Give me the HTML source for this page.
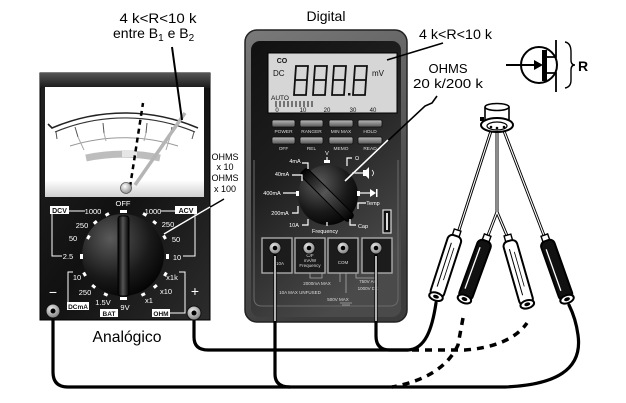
<!DOCTYPE html>
<html><head><meta charset="utf-8"><style>
html,body{margin:0;padding:0;background:#fff;}
svg{display:block;}
text{font-family:"Liberation Sans",sans-serif;}
</style></head><body>
<svg width="626" height="403" viewBox="0 0 626 403" xmlns="http://www.w3.org/2000/svg">
<defs>
<linearGradient id="aband" x1="0" y1="0" x2="0" y2="1"><stop offset="0" stop-color="#555"/><stop offset="1" stop-color="#1a1a1a"/></linearGradient>
<linearGradient id="abody" x1="0" y1="0" x2="1" y2="1"><stop offset="0" stop-color="#222"/><stop offset="0.5" stop-color="#111"/><stop offset="1" stop-color="#2c2c2c"/></linearGradient>
<linearGradient id="wstrip" x1="0" y1="0" x2="0" y2="1"><stop offset="0" stop-color="#fff"/><stop offset="1" stop-color="#d0d0d0"/></linearGradient>
<radialGradient id="knob" cx="0.35" cy="0.3" r="0.8"><stop offset="0" stop-color="#5a5a5a"/><stop offset="0.6" stop-color="#1a1a1a"/><stop offset="1" stop-color="#000"/></radialGradient>
<linearGradient id="ridge" x1="0" y1="0" x2="1" y2="0"><stop offset="0" stop-color="#000"/><stop offset="0.45" stop-color="#555"/><stop offset="1" stop-color="#000"/></linearGradient>
<linearGradient id="dframe" x1="0" y1="0" x2="0.3" y2="1"><stop offset="0" stop-color="#7a7a7a"/><stop offset="1" stop-color="#3c3c3c"/></linearGradient>
<linearGradient id="dinner" x1="0" y1="0" x2="0.5" y2="1"><stop offset="0" stop-color="#111"/><stop offset="0.45" stop-color="#1e1e1e"/><stop offset="1" stop-color="#4a4a4a"/></linearGradient>
<linearGradient id="btn" x1="0" y1="0" x2="0" y2="1"><stop offset="0" stop-color="#bbb"/><stop offset="1" stop-color="#555"/></linearGradient>
<radialGradient id="jack" cx="0.4" cy="0.35" r="0.7"><stop offset="0" stop-color="#eee"/><stop offset="1" stop-color="#777"/></radialGradient>
<radialGradient id="piv" cx="0.4" cy="0.35" r="0.7"><stop offset="0" stop-color="#fff"/><stop offset="1" stop-color="#888"/></radialGradient>
</defs>

<!-- ================= ANALOG METER ================= -->
<rect x="40" y="73" width="170" height="247" fill="url(#abody)" stroke="#000" stroke-width="1"/>
<rect x="40" y="73" width="170" height="15" fill="url(#aband)"/>
<rect x="45" y="87" width="159" height="110" fill="#fff"/>
<rect x="45" y="180" width="159" height="17" fill="url(#wstrip)"/>
<!-- scale -->
<path d="M48,124 L52,128 A185,185 0 0 1 198,128" fill="none" stroke="#222" stroke-width="1.6"/>
<path d="M55,132 A181,181 0 0 1 195,132" fill="none" stroke="#333" stroke-width="1.2"/>
<path d="M70,146 A180,180 0 0 1 178,146" fill="none" stroke="#999" stroke-width="1"/>
<g stroke="#555" stroke-width="1">
<line x1="56" y1="132" x2="57" y2="139"/>
<line x1="75" y1="127" x2="78" y2="137"/>
<line x1="103" y1="123" x2="104" y2="133"/>
<line x1="147" y1="123" x2="146" y2="133"/>
<line x1="172" y1="127" x2="170" y2="137"/>
<line x1="194" y1="132" x2="192" y2="139"/>
</g>
<g stroke="#aaa" stroke-width="1">
<line x1="78" y1="137" x2="84" y2="150"/>
<line x1="104" y1="133" x2="106" y2="141"/>
<line x1="146" y1="133" x2="144" y2="141"/>
<line x1="170" y1="137" x2="166" y2="150"/>
</g>
<path d="M86,158 A180,180 0 0 1 160,158" fill="none" stroke="#bdbdbd" stroke-width="7"/>
<rect x="122" y="150" width="15" height="7" fill="#e6e6e6"/>
<!-- needles -->
<line x1="135" y1="185" x2="185" y2="113" stroke="#b5b5b5" stroke-width="3.5"/>
<line x1="130" y1="187" x2="143" y2="103" stroke="#000" stroke-width="2.5" stroke-dasharray="5,4"/>
<circle cx="126" cy="188" r="5.5" fill="url(#piv)" stroke="#555" stroke-width="0.8"/>

<!-- dial area -->
<circle cx="123" cy="255" r="41" fill="url(#knob)"/>
<rect x="118" y="216" width="11" height="80" rx="3" fill="url(#ridge)" stroke="#000" stroke-width="1"/>
<g fill="#fff">
<rect x="120" y="210" width="7" height="3"/>
<rect x="120" y="297" width="7" height="3"/>
<rect x="105" y="213" width="4" height="3" transform="rotate(-30 107 214)"/>
<rect x="93" y="221" width="4" height="3" transform="rotate(-40 95 222)"/>
<rect x="86" y="236" width="4" height="3" transform="rotate(-60 88 237)"/>
<rect x="80" y="254" width="3" height="5"/>
<rect x="83" y="273" width="4" height="3" transform="rotate(60 85 274)"/>
<rect x="92" y="285" width="4" height="3" transform="rotate(40 94 286)"/>
<rect x="104" y="293" width="4" height="3" transform="rotate(25 106 294)"/>
<rect x="141" y="293" width="4" height="3" transform="rotate(-25 143 294)"/>
<rect x="153" y="285" width="4" height="3" transform="rotate(-40 155 286)"/>
<rect x="163" y="273" width="4" height="3" transform="rotate(-60 165 274)"/>
<rect x="166" y="254" width="3" height="5"/>
<rect x="163" y="236" width="4" height="3" transform="rotate(60 165 237)"/>
<rect x="153" y="221" width="4" height="3" transform="rotate(40 155 222)"/>
<rect x="143" y="213" width="4" height="3" transform="rotate(30 145 214)"/>
</g>
<!-- brackets -->
<g stroke="#fff" stroke-width="1" fill="none">
<path d="M52,214 L52,256 L62,256"/>
<line x1="68" y1="211" x2="85" y2="211"/>
<line x1="161" y1="211" x2="175" y2="211"/>
<path d="M195,214 L195,256 L183,256"/>
<path d="M73,272 L68,272 L68,303"/>
<path d="M179,272 L185,272 L185,313 L170,313"/>
</g>
<g fill="#fff">
<rect x="50" y="206" width="19" height="8"/>
<rect x="175" y="206" width="22" height="8"/>
<rect x="67" y="302" width="22" height="8"/>
<rect x="100" y="309" width="18" height="8"/>
<rect x="152" y="309" width="18" height="8"/>
</g>
<g font-size="7" fill="#111" font-weight="bold">
<text x="59.5" y="213" text-anchor="middle">DCV</text>
<text x="186" y="213" text-anchor="middle">ACV</text>
<text x="78" y="309" text-anchor="middle" font-size="6.5">DCmA</text>
<text x="109" y="316" text-anchor="middle" font-size="6.5">BAT</text>
<text x="161" y="316" text-anchor="middle" font-size="6.5">OHM</text>
</g>
<g font-size="7.5" fill="#fff" text-anchor="middle">
<text x="93" y="214">1000</text>
<text x="123" y="206">OFF</text>
<text x="153" y="214">1000</text>
<text x="82" y="228">250</text>
<text x="73" y="241">50</text>
<text x="68" y="259">2.5</text>
<text x="77" y="280">10</text>
<text x="85" y="295">250</text>
<text x="103" y="305">1.5V</text>
<text x="125" y="310">9V</text>
<text x="168" y="227">250</text>
<text x="176" y="242">50</text>
<text x="177" y="260">10</text>
<text x="172" y="280">x1k</text>
<text x="166" y="294">x10</text>
<text x="149" y="303">x1</text>
</g>
<text x="53" y="297" font-size="14" fill="#fff" text-anchor="middle">−</text>
<text x="195" y="296" font-size="14" fill="#fff" text-anchor="middle">+</text>

<!-- ================= DIGITAL METER ================= -->
<rect x="245" y="30" width="162" height="292" rx="12" fill="url(#dframe)" stroke="#222" stroke-width="1.5"/>
<rect x="251" y="41" width="150" height="276" rx="9" fill="url(#dinner)"/>
<path d="M254,160 L254,298 Q254,306 262,306 L390,306 Q398,306 398,298 L398,160" fill="none" stroke="#6a6a6a" stroke-width="1"/>
<!-- LCD -->
<rect x="268" y="53" width="129" height="60" fill="#d6d6d6" stroke="#000" stroke-width="1"/>
<text x="282" y="63" font-size="7" fill="#111" text-anchor="middle" font-weight="bold">CO</text>
<text x="273" y="76" font-size="8" fill="#111">DC</text>
<text x="372" y="76" font-size="8" fill="#111">mV</text>
<text x="271" y="100" font-size="6.5" fill="#111">AUTO</text>
<g fill="none" stroke="#111" stroke-width="1.8">
<path d="M296,66 L308,66 L307,80 L295,80 Z M295,80 L307,80 L306,95 L294,95 Z"/>
<path d="M315,66 L327,66 L326,80 L314,80 Z M314,80 L326,80 L325,95 L313,95 Z"/>
<path d="M334,66 L346,66 L345,80 L333,80 Z M333,80 L345,80 L344,95 L332,95 Z"/>
<path d="M355,66 L367,66 L366,80 L354,80 Z M354,80 L366,80 L365,95 L353,95 Z"/>
</g>
<rect x="348" y="93" width="2.5" height="2.5" fill="#111"/>
<g stroke="#111" stroke-width="1">
<line x1="276" y1="101" x2="276" y2="107"/><line x1="280" y1="101" x2="280" y2="107"/>
<line x1="284" y1="101" x2="284" y2="107"/><line x1="288" y1="101" x2="288" y2="107"/>
<line x1="292" y1="101" x2="292" y2="107"/><line x1="296" y1="101" x2="296" y2="107"/>
<line x1="300" y1="101" x2="300" y2="107"/><line x1="304" y1="101" x2="304" y2="107"/>
<line x1="308" y1="101" x2="308" y2="107"/><line x1="312" y1="101" x2="312" y2="107"/>
</g>
<g font-size="6" fill="#111" text-anchor="middle">
<text x="277" y="112">0</text><text x="303" y="112">10</text><text x="327" y="112">20</text><text x="353" y="112">30</text><text x="373" y="112">40</text>
</g>
<!-- buttons -->
<g fill="url(#btn)" stroke="#111" stroke-width="0.8">
<rect x="272" y="120" width="23" height="7" rx="1.5"/><rect x="300" y="120" width="23" height="7" rx="1.5"/>
<rect x="329" y="120" width="24" height="7" rx="1.5"/><rect x="358" y="120" width="24" height="7" rx="1.5"/>
<rect x="272" y="137" width="23" height="7" rx="1.5"/><rect x="300" y="137" width="23" height="7" rx="1.5"/>
<rect x="329" y="137" width="24" height="7" rx="1.5"/><rect x="358" y="137" width="24" height="7" rx="1.5"/>
</g>
<g font-size="4.8" fill="#ddd" text-anchor="middle">
<text x="283.5" y="133">POWER</text><text x="311.5" y="133">RANGER</text><text x="341" y="133">MIN MAX</text><text x="370" y="133">HOLD</text>
<text x="283.5" y="150">OFF</text><text x="311.5" y="150">REL</text><text x="341" y="150">MEMO</text><text x="370" y="150">READ</text>
</g>
<!-- dial -->
<circle cx="328" cy="195" r="30" fill="url(#knob)"/>
<rect x="-34" y="-5" width="68" height="10" rx="3" fill="url(#ridge)" stroke="#000" stroke-width="1" transform="translate(327,195) rotate(45)"/>
<g stroke="#fff" stroke-width="1.2" fill="none">
<path d="M327,157 L327,163"/>
<path d="M302,163 L308,163 L308,169"/>
<path d="M292,175 L302,175 L302,181"/>
<path d="M283,193 L298,193"/>
<path d="M292,213 L298,213 L298,206"/>
<path d="M302,225 L308,225 L308,219"/>
<path d="M327,226 L327,222"/>
<path d="M356,225 L350,225 L350,219"/>
<path d="M366,203 L358,203 L358,209"/>
<path d="M358,193 L370,193"/>
<path d="M352,173 L363,173"/>
<path d="M352,158 L347,158 L347,166"/>
</g>
<g fill="#fff" stroke="none">
<rect x="324" y="160" width="6" height="3"/>
<rect x="296" y="191" width="3" height="5"/>
<rect x="357" y="191" width="3" height="5"/>
<polygon points="370,189 376,193 370,197"/><rect x="376" y="189" width="1.5" height="8"/>
<polygon points="363,170 366,170 369,167 369,179 366,176 363,176"/>
</g>
<g font-size="5.5" fill="#fff" text-anchor="middle">
<text x="327" y="155">V</text>
<text x="295" y="163">4mA</text>
<text x="282" y="176">40mA</text>
<text x="272" y="195">400mA</text>
<text x="280" y="215">200mA</text>
<text x="294" y="227">10A</text>
<text x="325" y="233">Frequency</text>
<text x="363" y="228">Cap</text>
<text x="373" y="205">Temp</text>
<text x="357" y="160">Ω</text>
</g>
<path d="M372,176 Q375,173 372,170" fill="none" stroke="#fff" stroke-width="0.8"/>
<rect x="383" y="210" width="8" height="23" fill="#111" stroke="#ddd" stroke-width="1.2"/>
<rect x="386" y="213" width="2" height="17" fill="#ddd"/>
<!-- terminals -->
<g fill="#1c1c1c" stroke="#aaa" stroke-width="1.4">
<rect x="262" y="238" width="30" height="35"/><rect x="295" y="238" width="30" height="35"/>
<rect x="328" y="238" width="30" height="35"/><rect x="362" y="238" width="30" height="35"/>
</g>
<g font-size="4.5" fill="#ddd" text-anchor="middle">
<text x="280" y="265">10A</text>
<text x="310" y="257">C/F</text><text x="310" y="262">mA/W</text><text x="310" y="267">Frequency</text>
<text x="343" y="264">COM</text>
<text x="317" y="285">2000mA MAX</text>
<text x="300" y="294">10A MAX UNFUSED</text>
<text x="368" y="283">750V AC</text><text x="368" y="290">1000V DC</text>
<text x="338" y="301">500V MAX</text>
</g>
<g stroke="#aaa" stroke-width="0.8" fill="none">
<path d="M310,273 L310,278 L322,278 L322,273"/>
<path d="M340,273 L340,282 M346,273 L346,293 M340,303 L352,303 M342,305 L350,305"/>
<path d="M356,273 L356,278 L376,278"/>
<path d="M275,273 L275,288"/>
</g>

<!-- ================= WIRES ================= -->
<g fill="none" stroke="#000" stroke-width="3.2" stroke-linecap="round">
<path d="M53,316 L53,372 Q53,387 68,387 L505,387 C555,385 583,370 578,335 C576,320 572,311 569,305"/>
<path d="M194,318 L194,337 Q194,350 208,350 L408,350"/>
<path d="M376,250 L376,336 Q376,350 390,350 L408,350 C425,349 432,330 436,303"/>
<path d="M275,250 L275,374 Q275,387 290,387"/>
</g>
<g fill="none" stroke="#fff" stroke-width="1.4">
<line x1="275" y1="256" x2="275" y2="321"/>
<line x1="376" y1="256" x2="376" y2="321"/>
</g>
<g fill="none" stroke="#000" stroke-width="3.5" stroke-dasharray="7,6">
<path d="M412,350 L465,350 C492,348 515,340 527,323"/>
<path d="M463,318 L458,345 C448,367 425,381 392,387"/>
</g>
<!-- jacks -->
<g>
<circle cx="53" cy="311" r="7" fill="url(#jack)" stroke="#111" stroke-width="1"/><circle cx="53" cy="311" r="2.5" fill="#000"/>
<circle cx="194" cy="313" r="7" fill="url(#jack)" stroke="#111" stroke-width="1"/><circle cx="194" cy="313" r="2.5" fill="#000"/>
<circle cx="275" cy="248" r="6" fill="url(#jack)" stroke="#111" stroke-width="1"/><circle cx="275" cy="248" r="2.3" fill="#000"/>
<circle cx="309" cy="248" r="6" fill="url(#jack)" stroke="#111" stroke-width="1"/><circle cx="309" cy="248" r="2.3" fill="#000"/>
<circle cx="343" cy="248" r="6" fill="url(#jack)" stroke="#111" stroke-width="1"/><circle cx="343" cy="248" r="2.3" fill="#000"/>
<circle cx="376" cy="248" r="6" fill="url(#jack)" stroke="#111" stroke-width="1"/><circle cx="376" cy="248" r="2.3" fill="#000"/>
</g>

<!-- ================= TRANSISTOR & LEADS ================= -->
<g fill="none" stroke="#000" stroke-width="3" stroke-linecap="round">
<line x1="491" y1="131" x2="458" y2="233"/>
<line x1="497" y1="131" x2="497" y2="212"/>
<line x1="497" y1="212" x2="487" y2="238"/>
<line x1="497" y1="212" x2="508" y2="238"/>
<line x1="504" y1="131" x2="545" y2="238"/>
</g>
<g fill="none" stroke="#fff" stroke-width="1.1">
<line x1="491" y1="131" x2="458" y2="233"/>
<line x1="497" y1="131" x2="497" y2="212"/>
<line x1="497" y1="212" x2="487" y2="238"/>
<line x1="497" y1="212" x2="508" y2="238"/>
<line x1="504" y1="131" x2="545" y2="238"/>
</g>
<path d="M485,107 L485,121 L509,121 L509,107" fill="#fff" stroke="#000" stroke-width="1.6"/>
<ellipse cx="497" cy="107" rx="12" ry="3.5" fill="#fff" stroke="#000" stroke-width="1.6"/>
<ellipse cx="497" cy="125" rx="16" ry="7" fill="#fff" stroke="#000" stroke-width="2"/>
<ellipse cx="497" cy="126" rx="10" ry="4" fill="#fff" stroke="#000" stroke-width="1.2"/>
<rect x="480" y="117" width="4" height="4" fill="#000"/>
<circle cx="491" cy="127" r="1.3" fill="#000"/><circle cx="497" cy="128" r="1.3" fill="#000"/><circle cx="504" cy="127" r="1.3" fill="#000"/>

<!-- probes -->
<g transform="translate(457,232) rotate(18)">
<rect x="-3.5" y="-2" width="7" height="8" fill="#fff" stroke="#000" stroke-width="1.4"/>
<rect x="-7" y="4" width="14" height="64" rx="5" fill="#fff" stroke="#000" stroke-width="2"/>
<line x1="-2" y1="12" x2="-2" y2="58" stroke="#000" stroke-width="1"/>
<line x1="2" y1="16" x2="2" y2="50" stroke="#000" stroke-width="0.8"/>
<ellipse cx="0" cy="68" rx="7" ry="4" fill="#fff" stroke="#000" stroke-width="2"/>
<ellipse cx="0" cy="68" rx="3" ry="1.8" fill="#000"/>
</g>
<g transform="translate(487,237) rotate(20)">
<rect x="-3.5" y="-2" width="7" height="8" fill="#fff" stroke="#000" stroke-width="1.4"/>
<rect x="-7" y="4" width="14" height="62" rx="5" fill="#111" stroke="#000" stroke-width="2"/>
<line x1="-3" y1="12" x2="-3" y2="56" stroke="#fff" stroke-width="1.3"/>
<ellipse cx="0" cy="66" rx="7" ry="4" fill="#fff" stroke="#000" stroke-width="2"/>
<ellipse cx="0" cy="66" rx="3" ry="1.8" fill="#000"/>
</g>
<g transform="translate(508,237) rotate(-16)">
<rect x="-3.5" y="-2" width="7" height="8" fill="#fff" stroke="#000" stroke-width="1.4"/>
<rect x="-7" y="4" width="14" height="66" rx="5" fill="#fff" stroke="#000" stroke-width="2"/>
<line x1="-2" y1="12" x2="-2" y2="60" stroke="#000" stroke-width="1"/>
<line x1="2" y1="16" x2="2" y2="52" stroke="#000" stroke-width="0.8"/>
<ellipse cx="0" cy="70" rx="7" ry="4" fill="#fff" stroke="#000" stroke-width="2"/>
<ellipse cx="0" cy="70" rx="3" ry="1.8" fill="#000"/>
</g>
<g transform="translate(545,237) rotate(-19.5)">
<rect x="-3.5" y="-2" width="7" height="8" fill="#fff" stroke="#000" stroke-width="1.4"/>
<rect x="-7" y="4" width="14" height="62" rx="5" fill="#111" stroke="#000" stroke-width="2"/>
<line x1="-3" y1="12" x2="-3" y2="56" stroke="#fff" stroke-width="1.3"/>
<ellipse cx="0" cy="66" rx="7" ry="4" fill="#fff" stroke="#000" stroke-width="2"/>
<ellipse cx="0" cy="66" rx="3" ry="1.8" fill="#000"/>
</g>

<!-- ================= JFET SYMBOL ================= -->
<circle cx="539" cy="65" r="18" fill="none" stroke="#000" stroke-width="2"/>
<line x1="506" y1="65" x2="536" y2="65" stroke="#000" stroke-width="2"/>
<polygon points="534,60 543,65 534,70" fill="#000"/>
<rect x="542" y="50" width="5" height="31" fill="#000"/>
<path d="M547,57 L556,57 L556,40 M547,73 L556,73 L556,92" fill="none" stroke="#000" stroke-width="1.8"/>
<path d="M565,42 Q571,43 571,52 L571,60 Q571,65 575,65 Q571,65 571,70 L571,80 Q571,87 565,88" fill="none" stroke="#000" stroke-width="1.4"/>
<text x="578" y="71" font-size="14" font-weight="bold" fill="#000">R</text>

<!-- ================= LABELS & POINTERS ================= -->
<text x="158" y="23" font-size="14" text-anchor="middle" fill="#000" textLength="77" lengthAdjust="spacingAndGlyphs">4 k&lt;R&lt;10 k</text>
<text x="113" y="38" font-size="14" fill="#000">entre B<tspan font-size="10" dy="3">1</tspan><tspan dy="-3"> e B</tspan><tspan font-size="10" dy="3">2</tspan></text>
<line x1="172" y1="47" x2="182" y2="120" stroke="#000" stroke-width="2"/>

<text x="326" y="21" font-size="14" text-anchor="middle" fill="#000">Digital</text>

<text x="419" y="39" font-size="14" fill="#000" textLength="73" lengthAdjust="spacingAndGlyphs">4 k&lt;R&lt;10 k</text>
<line x1="387" y1="60" x2="443" y2="43" stroke="#000" stroke-width="1.6"/>
<text x="448" y="73" font-size="13" text-anchor="middle" fill="#000">OHMS</text>
<text x="448" y="88" font-size="13" text-anchor="middle" fill="#000" textLength="70" lengthAdjust="spacingAndGlyphs">20 k/200 k</text>
<path d="M437,96 L432,103 L425,106 L345,181" fill="none" stroke="#000" stroke-width="1.6"/>
<line x1="388" y1="140" x2="345" y2="181" stroke="#fff" stroke-width="1.6"/>

<g font-size="9" fill="#000" text-anchor="middle">
<text x="225" y="160">OHMS</text>
<text x="225" y="170">x 10</text>
<text x="225" y="181">OHMS</text>
<text x="225" y="192">x 100</text>
</g>
<line x1="224" y1="199" x2="164" y2="234" stroke="#000" stroke-width="1.4"/>
<line x1="210" y1="207" x2="164" y2="234" stroke="#fff" stroke-width="1.4"/>

<text x="127" y="342" font-size="16" text-anchor="middle" fill="#000" textLength="69" lengthAdjust="spacingAndGlyphs">Analógico</text>
</svg>
</body></html>
